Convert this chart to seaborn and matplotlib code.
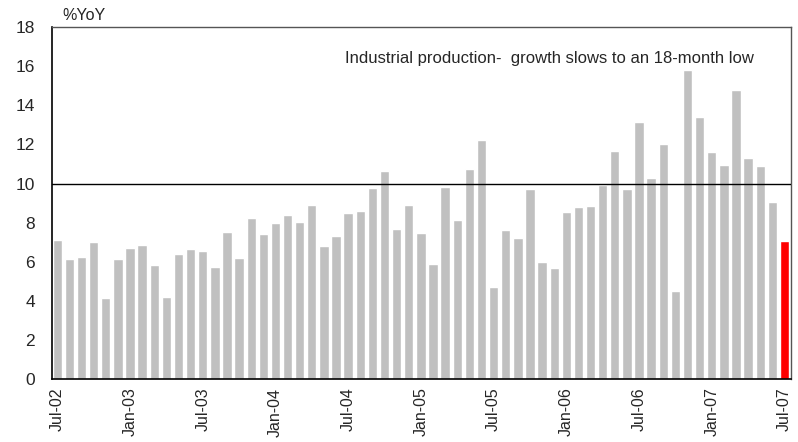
import matplotlib
matplotlib.use("Agg")
import matplotlib.pyplot as plt
import seaborn as sns
import pandas as pd

# Monthly industrial production growth, %YoY, Jul-02 .. Jul-07
months = pd.date_range("2002-07-01", periods=61, freq="MS").strftime("%b-%y").tolist()
growth = [
    7.14, 6.15, 6.25, 7.02, 4.16, 6.15,             # Jul-02 .. Dec-02
    6.71, 6.86, 5.84, 4.21, 6.40, 6.66,             # Jan-03 .. Jun-03
    6.56, 5.74, 7.53, 6.20, 8.24, 7.42,             # Jul-03 .. Dec-03
    7.99, 8.40, 8.04, 8.91, 6.81, 7.32,             # Jan-04 .. Jun-04
    8.50, 8.60, 9.78, 10.64, 7.68, 8.91,            # Jul-04 .. Dec-04
    7.48, 5.89, 9.83, 8.14, 10.75, 12.23,           # Jan-05 .. Jun-05
    4.72, 7.63, 7.22, 9.72, 5.99, 5.69,             # Jul-05 .. Dec-05
    8.55, 8.80, 8.86, 9.93, 11.67, 9.72,            # Jan-06 .. Jun-06
    13.15, 10.29, 12.02, 4.51, 15.80, 13.40,        # Jul-06 .. Dec-06
    11.61, 10.95, 14.78, 11.31, 10.90, 9.06,        # Jan-07 .. Jun-07
    7.07,                                           # Jul-07
]
reference_level = 10
y_ticks = list(range(0, 19, 2))
title_text = "Industrial production-  growth slows to an 18-month low"
unit_label = "%YoY"

df = pd.DataFrame({"month": months, "growth": growth})
bar_colors = {m: "#c0c0c0" for m in months}
bar_colors[months[-1]] = "#ff0000"

sns.set_style("white")
plt.rcParams["font.family"] = ["Liberation Sans Narrow", "Liberation Sans", "DejaVu Sans"]

fig = plt.figure(figsize=(7.98, 4.42), dpi=100)
ax = fig.add_axes([0.0648, 0.1419, 0.926, 0.797])

sns.barplot(data=df, x="month", y="growth", hue="month", palette=bar_colors,
            legend=False, width=0.77, saturation=1, ax=ax, order=months)

ax.axhline(reference_level, color="black", lw=1.0, zorder=3)

ax.set_xlim(-0.46, len(months) - 0.49)
ax.set_ylim(0, 18)
ax.set_yticks(y_ticks)
ax.set_yticklabels([str(t) for t in y_ticks], fontsize=12.5)
ax.set_xticks(range(0, len(months), 6))
ax.set_xticklabels(months[::6], rotation=90, fontsize=11.5)
ax.tick_params(axis="y", direction="in", length=6, width=1, color="black", pad=12)
ax.tick_params(axis="x", length=0, pad=6)
ax.set_xlabel("")
ax.set_ylabel("")

for side in ["left", "bottom"]:
    ax.spines[side].set_color("black")
    ax.spines[side].set_linewidth(1.2)
for side in ["top", "right"]:
    ax.spines[side].set_color("#555555")
    ax.spines[side].set_linewidth(1.0)

ax.text(23.74, 16.4, title_text, fontsize=12, ha="left", va="center")
ax.text(0.015, 1.012, unit_label, transform=ax.transAxes, fontsize=11.5,
        ha="left", va="bottom")

fig.savefig("out.png", dpi=100)
